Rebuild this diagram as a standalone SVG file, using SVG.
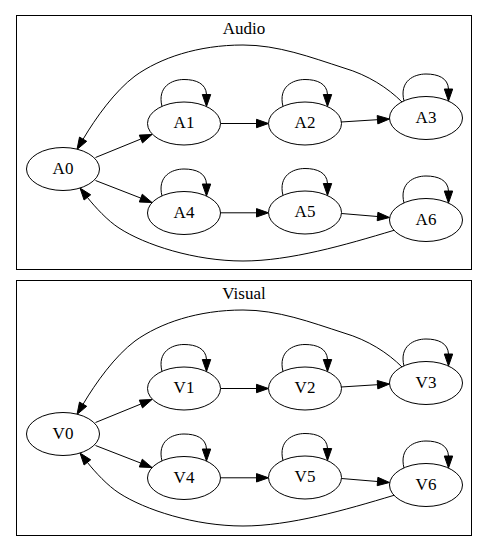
<svg xmlns="http://www.w3.org/2000/svg" xmlns:xlink="http://www.w3.org/1999/xlink" width="488" height="551" viewBox="0 0 488 551">
<style>
.cluster{fill:none;stroke:#000;stroke-width:1}
.node ellipse{fill:#fff;stroke:#000;stroke-width:1}
.lbl{font-family:"Liberation Serif","Times New Roman","DejaVu Serif",serif;font-size:17px;fill:#000;text-anchor:middle}
.edge{fill:none;stroke:#000;stroke-width:1}
.head{fill:#000;stroke:#000;stroke-width:1}
</style>
<defs>
<g id="loop">
<path class="edge" d="M-22,-17 C-27,-37 -12,-44 0,-44 C12,-44 22,-40 22.5,-29"/>
<polygon class="head" points="18.3,-29 26.7,-29 22.5,-17"/>
</g>
<g id="clusterEdges">
<path class="edge" d="M95.5,157.5 L140.9,139"/>
<polygon class="head" points="142.5,142.9 139.3,135.1 152,134.5"/>
<path class="edge" d="M95.5,180.5 L140.8,198.1"/>
<polygon class="head" points="139.3,202 142.3,194.2 152,202.5"/>
<path class="edge" d="M220.5,123.5 L256.5,123.5"/>
<polygon class="head" points="256.5,119.3 256.5,127.7 268.5,123.5"/>
<path class="edge" d="M341,122 L377.5,119.7"/>
<polygon class="head" points="377.8,123.9 377.2,115.5 389.5,119"/>
<path class="edge" d="M220.5,212.8 L256.5,212.8"/>
<polygon class="head" points="256.5,208.6 256.5,217 268.5,212.8"/>
<path class="edge" d="M341.5,213.5 L377.5,216.5"/>
<polygon class="head" points="377.2,220.7 377.9,212.3 389.5,217.5"/>
<path class="edge" d="M402,102 C388,88 368,75 344,68 C310,57 278,45 243,45 C198,45 160,58 135,76 C115,91 95.8,117.7 83.1,139.2"/>
<polygon class="head" points="86.7,141.3 79.5,137.1 77,149.5"/>
<path class="edge" d="M394,230.3 C345,245 290,261 243,261 C195,261 145,245 119,228 C108,221 94.8,206.8 87.4,197.4"/>
<polygon class="head" points="90.7,194.8 84.1,200 80,188"/>
<use xlink:href="#loop" x="184" y="123.5"/>
<use xlink:href="#loop" x="305" y="123.5"/>
<use xlink:href="#loop" x="426" y="118"/>
<use xlink:href="#loop" x="184" y="213"/>
<use xlink:href="#loop" x="305" y="212.5"/>
<use xlink:href="#loop" x="426" y="220"/>
</g>
</defs>

<g id="cluster_audio">
<rect class="cluster" x="16.5" y="15.5" width="455" height="254"/>
<text class="lbl" font-family="Liberation Serif, serif" x="244" y="34">Audio</text>
</g>
<g id="cluster_visual">
<rect class="cluster" x="16.5" y="280.5" width="455" height="255"/>
<text class="lbl" font-family="Liberation Serif, serif" x="244" y="299">Visual</text>
</g>

<g id="connectors">
<g id="audio_edges"><use xlink:href="#clusterEdges"/></g>
<g id="visual_edges"><use xlink:href="#clusterEdges" y="265"/></g>
</g>

<g font-family="Liberation Serif, serif">
<g id="A0" class="node"><ellipse cx="63" cy="169" rx="36.5" ry="21.5"/><text class="lbl" x="63" y="173.5">A0</text></g>
<g id="A1" class="node"><ellipse cx="184" cy="123.5" rx="36.5" ry="21.5"/><text class="lbl" x="184" y="128">A1</text></g>
<g id="A2" class="node"><ellipse cx="305" cy="123.5" rx="36.5" ry="21.5"/><text class="lbl" x="305" y="128">A2</text></g>
<g id="A3" class="node"><ellipse cx="426" cy="118" rx="36.5" ry="21.5"/><text class="lbl" x="426" y="122.5">A3</text></g>
<g id="A4" class="node"><ellipse cx="184" cy="213" rx="36.5" ry="21.5"/><text class="lbl" x="184" y="217.5">A4</text></g>
<g id="A5" class="node"><ellipse cx="305" cy="212.5" rx="36.5" ry="21.5"/><text class="lbl" x="305" y="217">A5</text></g>
<g id="A6" class="node"><ellipse cx="426" cy="220" rx="36.5" ry="21.5"/><text class="lbl" x="426" y="224.5">A6</text></g>

<g id="V0" class="node"><ellipse cx="63" cy="434" rx="36.5" ry="21.5"/><text class="lbl" x="63" y="438.5">V0</text></g>
<g id="V1" class="node"><ellipse cx="184" cy="388.5" rx="36.5" ry="21.5"/><text class="lbl" x="184" y="393">V1</text></g>
<g id="V2" class="node"><ellipse cx="305" cy="388.5" rx="36.5" ry="21.5"/><text class="lbl" x="305" y="393">V2</text></g>
<g id="V3" class="node"><ellipse cx="426" cy="383" rx="36.5" ry="21.5"/><text class="lbl" x="426" y="387.5">V3</text></g>
<g id="V4" class="node"><ellipse cx="184" cy="478" rx="36.5" ry="21.5"/><text class="lbl" x="184" y="482.5">V4</text></g>
<g id="V5" class="node"><ellipse cx="305" cy="477.5" rx="36.5" ry="21.5"/><text class="lbl" x="305" y="482">V5</text></g>
<g id="V6" class="node"><ellipse cx="426" cy="485" rx="36.5" ry="21.5"/><text class="lbl" x="426" y="489.5">V6</text></g>
</g>
</svg>
